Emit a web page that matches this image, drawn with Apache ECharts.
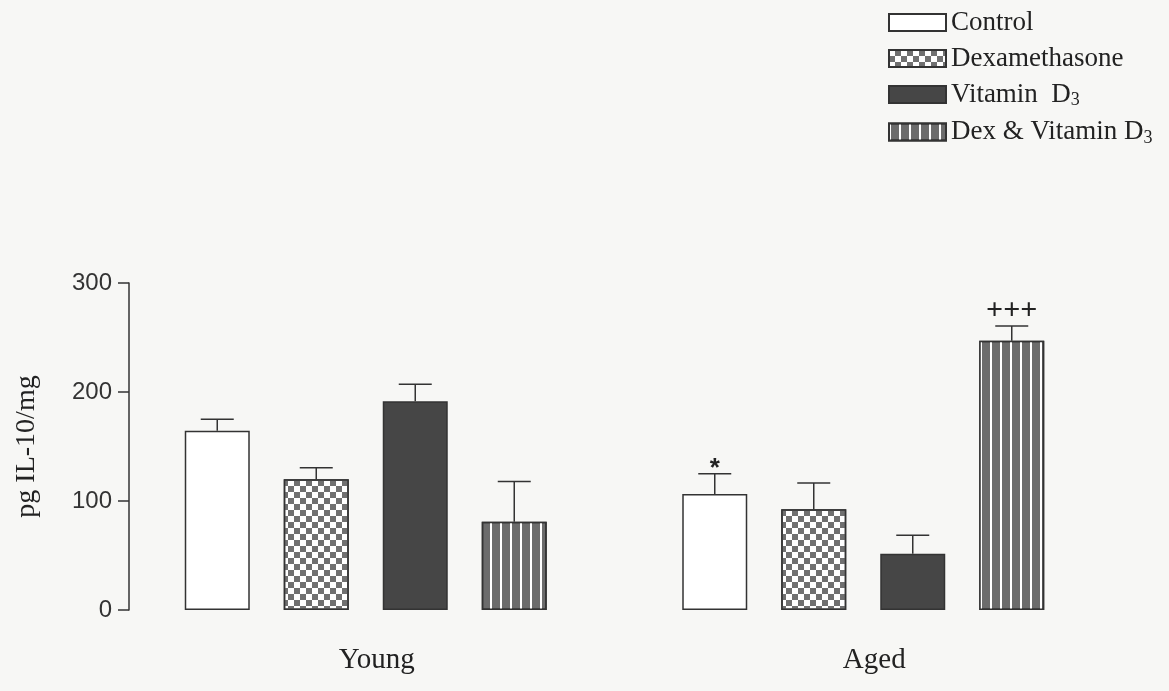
<!DOCTYPE html>
<html>
<head>
<meta charset="utf-8">
<script src="https://cdn.jsdelivr.net/npm/echarts@6/dist/echarts.min.js"></script>
<style>
  html, body { margin: 0; padding: 0; background: #f7f7f5; }
  #chart { width: 1169px; height: 691px; }
</style>
</head>
<body>
<div id="chart"></div>
<script>
// groups on the x axis
const categories = ['Young', 'Aged'];
const treatments = ['Control', 'Dexamethasone', 'Vitamin  D3', 'Dex & Vitamin D3'];

// mean values per treatment (Young, Aged)
const controlMean = [164.5, 106.5];
const dexMean = [120, 92.5];
const vitMean = [191.5, 51.5];
const dexVitMean = [81, 247];

// upper error (SEM) per treatment
const controlErr = [10.5, 18.5];
const dexErr = [10.5, 24];
const vitErr = [15.5, 17];
const dexVitErr = [37, 13.5];

// significance marks
const controlMarks = ['', '*'];
const dexMarks = ['', ''];
const vitMarks = ['', ''];
const dexVitMarks = ['', '+++'];

const yTicks = [0, 100, 200, 300];

const means = [controlMean, dexMean, vitMean, dexVitMean];
const errs = [controlErr, dexErr, vitErr, dexVitErr];
const marks = [controlMarks, dexMarks, vitMarks, dexVitMarks];

const serif = '"Liberation Serif", "Times New Roman", serif';
const sans = '"Liberation Sans", Arial, sans-serif';
const edge = '#333';
const barW = 65;
const pitch = 99;

const styles = [
  { color: '#ffffff', borderColor: edge, borderWidth: 1.5 },
  {
    color: '#ffffff', borderColor: edge, borderWidth: 1.5,
    decal: { symbol: 'rect', symbolSize: 1, color: '#707070',
      dashArrayX: [[5.5, 5.5], [0, 5.5, 5.5, 0]], dashArrayY: [5.5, 0] }
  },
  { color: '#464646', borderColor: edge, borderWidth: 1.5 },
  {
    color: '#6c6c6c', borderColor: edge, borderWidth: 1.5,
    decal: { symbol: 'rect', symbolSize: 1, color: '#ffffff',
      dashArrayX: [1.5, 8], dashArrayY: [1, 0] }
  }
];

const barSeries = treatments.map((name, k) => ({
  name: name,
  type: 'bar',
  data: means[k],
  barWidth: barW,
  barGap: ((pitch - barW) / barW * 100).toFixed(1) + '%',
  itemStyle: styles[k],
  emphasis: { disabled: true }
}));

// error bar rows: [category index, treatment index, mean, err]
const errData = [];
const errMarks = [];
treatments.forEach((t, k) => {
  categories.forEach((c, i) => {
    errData.push([i, k, means[k][i], errs[k][i]]);
    errMarks.push(marks[k][i]);
  });
});

const errSeries = {
  type: 'custom',
  z: 5,
  silent: true,
  data: errData,
  renderItem: function (params, api) {
    const cat = api.value(0), k = api.value(1), v = api.value(2), e = api.value(3);
    const base = api.coord([cat, v]);
    const top = api.coord([cat, v + e]);
    const x = base[0] + (k - 1.5) * pitch;
    const children = [
      { type: 'line', shape: { x1: x, y1: base[1], x2: x, y2: top[1] },
        style: { stroke: edge, lineWidth: 1.5 } },
      { type: 'line', shape: { x1: x - 16.5, y1: top[1], x2: x + 16.5, y2: top[1] },
        style: { stroke: edge, lineWidth: 1.5 } }
    ];
    const m = errMarks[params.dataIndex];
    if (m) {
      children.push({
        type: 'text',
        style: {
          text: m, x: x, y: m === '*' ? top[1] - 5 : top[1] - 15,
          align: 'center', verticalAlign: 'middle',
          font: m === '*' ? 'bold 26px ' + sans : 'bold 30px ' + serif,
          fill: '#222'
        }
      });
    }
    return { type: 'group', children: children };
  }
};

const chart = echarts.init(document.getElementById('chart'));
chart.setOption({
  backgroundColor: '#f7f7f5',
  animation: false,
  legend: {
    orient: 'vertical',
    left: 883,
    top: 4,
    icon: 'rect',
    itemWidth: 57,
    itemHeight: 17,
    itemGap: 9,
    data: treatments,
    formatter: name => name.replace('D3', 'D{sub|3}'),
    textStyle: {
      fontFamily: serif, fontSize: 27, color: '#222',
      rich: { sub: { fontFamily: serif, fontSize: 18, color: '#222', verticalAlign: 'bottom', padding: [12, 0, 0, 0] } }
    }
  },
  grid: { left: 117, right: 57, top: 283, bottom: 81 },
  xAxis: {
    type: 'category',
    data: categories,
    axisLine: { show: false },
    axisTick: { show: false },
    axisLabel: { fontFamily: serif, fontSize: 29, color: '#222', margin: 36, padding: [0, 0, 0, 22] }
  },
  yAxis: {
    type: 'value',
    min: yTicks[0],
    max: yTicks[yTicks.length - 1],
    interval: 100,
    offset: -12,
    name: 'pg IL-10/mg',
    nameLocation: 'middle',
    nameGap: 88,
    nameTextStyle: { fontFamily: serif, fontSize: 28, color: '#222' },
    axisLine: { show: true, lineStyle: { color: edge, width: 1.5 } },
    axisTick: { show: true, length: 11, lineStyle: { color: edge, width: 1.5 } },
    axisLabel: { fontFamily: sans, fontSize: 24, color: '#333', margin: 17 },
    splitLine: { show: false }
  },
  series: [...barSeries, errSeries]
});
</script>
</body>
</html>
